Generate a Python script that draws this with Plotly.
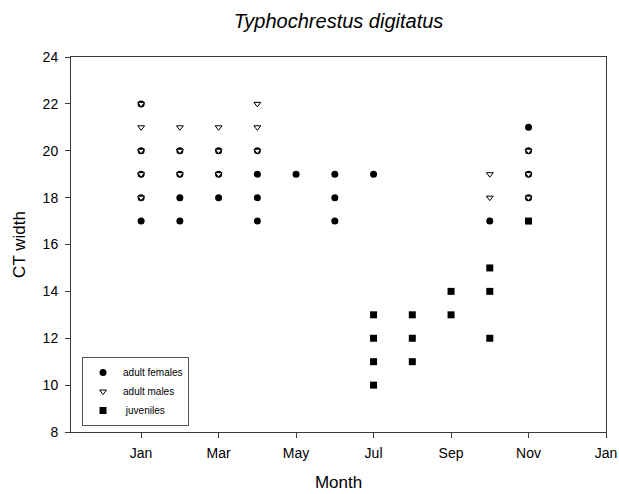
import plotly.graph_objects as go

# ---- data ----
tick_months = [1, 3, 5, 7, 9, 11, 13]
tick_labels = ["Jan", "Mar", "May", "Jul", "Sep", "Nov", "Jan"]

female_month = [1, 1, 1, 1, 1, 2, 2, 2, 2, 3, 3, 3, 4, 4, 4, 4, 5, 6, 6, 6, 7, 10, 11, 11, 11, 11]
female_width = [22, 20, 19, 18, 17, 20, 19, 18, 17, 20, 19, 18, 20, 19, 18, 17, 19, 19, 18, 17, 19, 17, 21, 20, 19, 18]

male_month = [1, 1, 1, 1, 1, 2, 2, 2, 3, 3, 3, 4, 4, 4, 10, 10, 11, 11, 11]
male_width = [22, 21, 20, 19, 18, 21, 20, 19, 21, 20, 19, 22, 21, 20, 19, 18, 20, 19, 18]

juv_month = [7, 7, 7, 7, 8, 8, 8, 9, 9, 10, 10, 10, 11]
juv_width = [13, 12, 11, 10, 13, 12, 11, 14, 13, 15, 14, 12, 17]

fig = go.Figure()
fig.add_trace(go.Scatter(
    x=female_month, y=female_width, mode="markers", name="adult females",
    marker=dict(symbol="circle", size=7, color="black", line=dict(width=0)),
))
fig.add_trace(go.Scatter(
    x=male_month, y=male_width, mode="markers", name="adult males",
    marker=dict(symbol="triangle-down", size=6, color="white", line=dict(width=1, color="black")),
))
fig.add_trace(go.Scatter(
    x=juv_month, y=juv_width, mode="markers", name=" juveniles",
    marker=dict(symbol="square", size=7, color="black", line=dict(width=0)),
))

axis_common = dict(
    showline=True, linecolor="#3a3a3a", linewidth=1, mirror=True,
    ticks="outside", ticklen=5, tickcolor="#3a3a3a", showgrid=False, zeroline=False,
    tickfont=dict(size=14, color="black"), automargin=False,
)

fig.update_layout(
    width=619, height=494,
    margin=dict(l=71, r=13, t=57, b=62),
    paper_bgcolor="white", plot_bgcolor="white",
    font=dict(family="Liberation Sans, Arial, sans-serif", color="black"),
    title=dict(text="<i>Typhochrestus digitatus</i>", x=(338.5 / 619), xanchor="center",
               y=1 - 21 / 494, yanchor="middle", font=dict(size=20)),
    xaxis=dict(range=[-0.81, 13], tickvals=tick_months, ticktext=tick_labels,
               ticklabelstandoff=3,
               title=dict(text="Month", font=dict(size=17), standoff=16), **axis_common),
    yaxis=dict(range=[8, 24], dtick=2, tick0=8, ticklabelstandoff=4,
               title=dict(text="CT width", font=dict(size=17), standoff=12), **axis_common),
    legend=dict(x=0.0206, y=0.2, xanchor="left", yanchor="top",
                bordercolor="#555555", borderwidth=1, bgcolor="white",
                font=dict(size=10), tracegroupgap=0, itemwidth=30),
    showlegend=True,
    hovermode=False,
)

fig.write_html(
    "out.html",
    config={"displayModeBar": False},
    post_script="document.body.style.margin='0';document.body.style.overflow='hidden';",
)
